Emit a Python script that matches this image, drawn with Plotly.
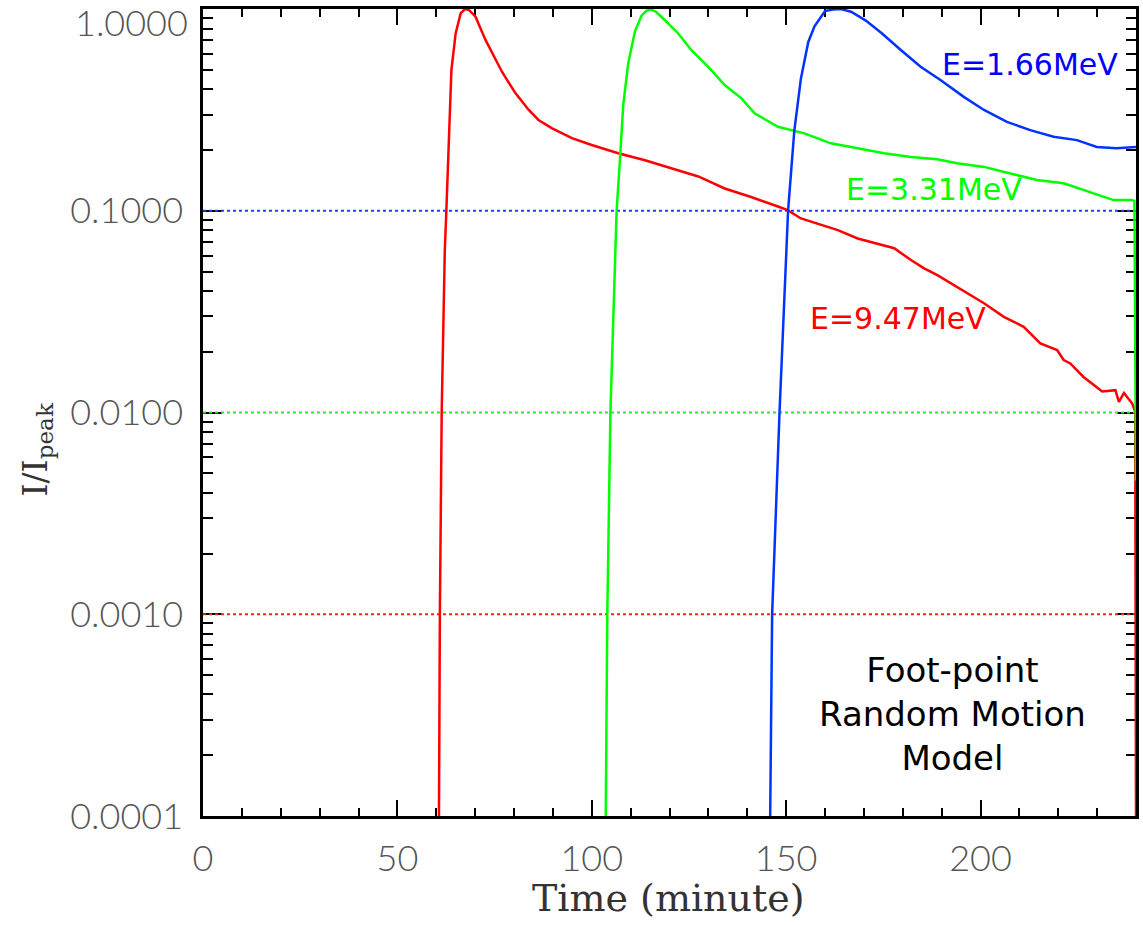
import plotly.graph_objects as go

# ---- data ----
t_red = [60.7, 60.93, 61.4, 62.2, 62.6, 63.3, 63.9, 65.0, 66.3, 67.4, 68.4, 70.1, 72.7, 76.9, 80.4,
         83.8, 86.3, 89.7, 94.9, 100.0, 106.8, 113.7, 120.5, 127.4, 134.2, 141.0, 147.9,
         150.4, 153.8, 158.1, 163.3, 168.4, 173.5, 177.8, 182.1, 185.5, 188.9, 192.3, 196.6,
         200.9, 206.0, 211.1, 215.4, 219.7, 221.4, 223.1, 226.5, 231.3, 234.7, 235.6, 236.9,
         239.0, 239.8, 240.0]
i_red = [0.0001, 0.001, 0.01, 0.0638, 0.1, 0.242, 0.499, 0.759, 0.955, 1.0, 0.99, 0.916, 0.701,
         0.489, 0.382, 0.316, 0.282, 0.257, 0.229, 0.212, 0.193, 0.178, 0.162, 0.148, 0.129,
         0.117, 0.105, 0.1007, 0.0916, 0.0865, 0.0802, 0.0729, 0.0689, 0.0652, 0.0570,
         0.0518, 0.0480, 0.0437, 0.0389, 0.0348, 0.0298, 0.0266, 0.0220, 0.0204, 0.0182,
         0.0175, 0.0150, 0.0127, 0.0129, 0.0113, 0.0125, 0.0111, 0.0101, 0.0001]

t_green = [103.6, 104.0, 104.8, 106.4, 107.3, 108.1, 109.4, 111.1, 112.8, 113.9, 115.0, 116.5,
           117.9, 122.2, 125.6, 129.9, 134.2, 138.5, 141.9, 147.9, 154.7, 161.5, 168.4, 175.2,
           182.1, 188.9, 194.0, 200.9, 207.7, 214.5, 221.4, 228.2, 234.2, 238.9, 239.6, 240.0]
i_green = [0.0001, 0.001, 0.01, 0.1, 0.185, 0.336, 0.541, 0.774, 0.927, 0.975, 1.0, 0.97,
           0.916, 0.759, 0.627, 0.518, 0.420, 0.361, 0.304, 0.261, 0.242, 0.216, 0.204, 0.193,
           0.185, 0.180, 0.172, 0.165, 0.153, 0.142, 0.137, 0.124, 0.113, 0.113, 0.112, 0.0046]

t_blue = [145.9, 146.4, 148.3, 150.5, 152.1, 153.8, 155.7, 157.3, 160.0, 162.0, 164.1, 166.7,
          170.5, 174.6, 179.5, 184.6, 189.7, 195.7, 200.9, 206.8, 212.8, 218.8, 224.8, 229.9,
          235.0, 240.0]
i_blue = [0.0001, 0.001, 0.01, 0.1, 0.249, 0.452, 0.687, 0.822, 0.977, 0.995, 1.0, 0.970,
          0.877, 0.759, 0.627, 0.518, 0.445, 0.367, 0.316, 0.276, 0.251, 0.233, 0.224, 0.207,
          0.204, 0.207]

ref_levels = [0.1, 0.01, 0.001]
ref_colors = ["#2040ff", "#22ee22", "#ff2020"]

labels = ["E=1.66MeV", "E=3.31MeV", "E=9.47MeV"]
label_colors = ["#0000ff", "#00ff00", "#ff0000"]
label_x = [1033, 936, 900]   # pixel centres
label_y = [64, 189, 318]

y_tickvals = [1.0, 0.1, 0.01, 0.001, 0.0001]
y_ticktext = ["1.0000", "0.1000", "0.0100", "0.0010", "0.0001"]
x_tickvals = [0, 50, 100, 150, 200]

# ---- layout geometry ----
W, H = 1143, 925
L, R, T, B = 203, 1139, 9, 816
pw, ph = R - L, B - T

def px2paper_x(px):
    return (px - L) / pw

def px2paper_y(py):
    return (B - py) / ph

fig = go.Figure()

for lvl, c in zip(ref_levels, ref_colors):
    fig.add_trace(go.Scatter(x=[0, 240], y=[lvl, lvl], mode="lines",
                             line=dict(color=c, width=2, dash="dot"),
                             showlegend=False, hoverinfo="skip"))

for tx, iy, c in [(t_red, i_red, "#ff0000"), (t_green, i_green, "#00ff00"), (t_blue, i_blue, "#0033ff")]:
    fig.add_trace(go.Scatter(x=tx, y=iy, mode="lines",
                             line=dict(color=c, width=2.5),
                             showlegend=False))

tickfont = dict(family="Lato", size=36, color="#555555", weight=300)

# the top label sits a little below its tick (it would otherwise leave the page)
shown_text = [("" if v == 1.0 else s) for v, s in zip(y_tickvals, y_ticktext)]

fig.update_xaxes(range=[0, 240], tickvals=x_tickvals, ticks="inside", ticklen=16,
                 tickwidth=2, tickcolor="black", showline=True, linecolor="black",
                 linewidth=2.5, mirror="allticks", showgrid=False, zeroline=False,
                 tickfont=tickfont, ticklabelstandoff=9, layer="below traces",
                 minor=dict(dtick=10, ticks="inside", ticklen=8, tickwidth=2,
                            tickcolor="black", showgrid=False))
fig.update_yaxes(type="log", range=[-4.0003, 0.0003], tickvals=y_tickvals, ticktext=shown_text,
                 ticks="inside", ticklen=19, tickwidth=2, tickcolor="black",
                 showline=True, linecolor="black", linewidth=2.5, mirror="allticks",
                 showgrid=False, zeroline=False, tickfont=tickfont, ticklabelstandoff=10,
                 layer="below traces",
                 minor=dict(dtick="D1", ticks="inside", ticklen=10, tickwidth=2,
                            tickcolor="black", showgrid=False))

annotations = []
annotations.append(dict(text=y_ticktext[0], x=px2paper_x(190), y=px2paper_y(22),
                        xref="paper", yref="paper", showarrow=False,
                        xanchor="right", yanchor="middle", font=tickfont))
for txt, c, lx, ly in zip(labels, label_colors, label_x, label_y):
    annotations.append(dict(text=txt, x=px2paper_x(lx), y=px2paper_y(ly),
                            xref="paper", yref="paper", showarrow=False,
                            xanchor="center", yanchor="middle",
                            font=dict(family="DejaVu Sans", size=30, color=c)))
annotations.append(dict(text="Foot-point<br>Random Motion<br>Model",
                        x=px2paper_x(955), y=px2paper_y(714), xref="paper", yref="paper",
                        showarrow=False, xanchor="center", yanchor="middle", align="center",
                        font=dict(family="DejaVu Sans", size=34, color="black")))
annotations.append(dict(text="Time (minute)", x=px2paper_x(670), y=px2paper_y(898),
                        xref="paper", yref="paper", showarrow=False,
                        xanchor="center", yanchor="middle",
                        font=dict(family="DejaVu Serif", size=38, color="#333333")))
annotations.append(dict(text="I/I<sub>peak</sub>", x=px2paper_x(36), y=px2paper_y(450),
                        xref="paper", yref="paper", showarrow=False, textangle=-90,
                        xanchor="center", yanchor="middle",
                        font=dict(family="DejaVu Serif", size=33, color="#333333")))

fig.update_layout(width=W, height=H, margin=dict(l=L, r=W - R, t=T, b=H - B),
                  plot_bgcolor="white", paper_bgcolor="white",
                  annotations=annotations, showlegend=False)

fig.write_html("out.html", config={"displayModeBar": False},
               post_script="document.body.style.margin='0';document.body.style.overflow='hidden';")
